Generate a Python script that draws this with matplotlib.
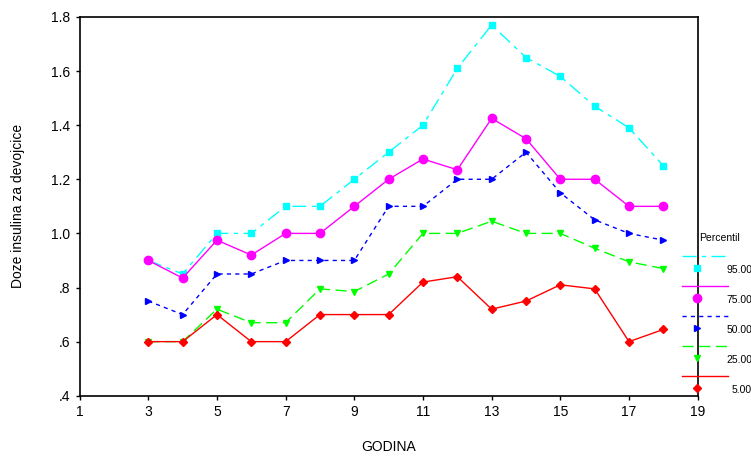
import numpy as np
import matplotlib.pyplot as plt
from matplotlib.lines import Line2D

plt.rcParams['font.family'] = ['Liberation Sans', 'DejaVu Sans']

# age (years) on x
godina = [3, 4, 5, 6, 7, 8, 9, 10, 11, 12, 13, 14, 15, 16, 17, 18]

# percentile curves of insulin dose
p95 = [0.90, 0.85, 1.00, 1.00, 1.10, 1.10, 1.20, 1.30, 1.40, 1.61, 1.77, 1.65, 1.58, 1.47, 1.39, 1.25]
p75 = [0.90, 0.835, 0.975, 0.92, 1.00, 1.00, 1.10, 1.20, 1.275, 1.235, 1.425, 1.35, 1.20, 1.20, 1.10, 1.10]
p50 = [0.75, 0.70, 0.85, 0.85, 0.90, 0.90, 0.90, 1.10, 1.10, 1.20, 1.20, 1.30, 1.15, 1.05, 1.00, 0.975]
p25 = [0.60, 0.60, 0.72, 0.67, 0.67, 0.795, 0.785, 0.85, 1.00, 1.00, 1.045, 1.00, 1.00, 0.945, 0.895, 0.87]
p5 = [0.60, 0.60, 0.70, 0.60, 0.60, 0.70, 0.70, 0.70, 0.82, 0.84, 0.72, 0.75, 0.81, 0.795, 0.60, 0.645]

labels = ['95.00', '75.00', '50.00', '25.00', '5.00']
series = [p95, p75, p50, p25, p5]
colors = ['#00ffff', '#ff00ff', '#0000ff', '#00ff00', '#ff0000']
markers = ['s', 'o', '>', 'v', 'D']
msizes = [4.5, 6, 5, 5, 4.5]
dashes = [(10, 4, 3, 4), None, (3, 3), (8, 4), None]

fig = plt.figure(figsize=(7.51, 4.57), dpi=100)
ax = fig.add_axes([0.106, 0.134, 0.823, 0.829])

for ys, c, m, ms, d in zip(series, colors, markers, msizes, dashes):
    line, = ax.plot(godina, ys, color=c, lw=1, marker=m, markersize=ms,
                    markeredgecolor=c, markerfacecolor=c)
    if d is not None:
        line.set_dashes(d)

ax.set_xlim(1, 19)
ax.set_ylim(0.4, 1.8)
ax.set_xticks(range(1, 20, 2))
yt = np.arange(0.4, 1.81, 0.2)
ax.set_yticks(yt)
ax.set_yticklabels(['.4', '.6', '.8', '1.0', '1.2', '1.4', '1.6', '1.8'])
ax.tick_params(direction='out', length=3, width=1, labelsize=10, pad=4)
for s in ax.spines.values():
    s.set_linewidth(1.2)

ax.set_xlabel('GODINA', fontsize=10, va='center')
ax.xaxis.set_label_coords(0.5, -0.135)
ax.set_ylabel('Doze insulina za devojcice', fontsize=10, va='center')
ax.yaxis.set_label_coords(-0.1, 0.5)

# SPSS style legend on the right: line sample above marker
W, H = 751, 457
fig.text(720 / W, 1 - 238 / H, 'Percentil', fontsize=7.5, ha='center', va='center')
for i, (lab, c, m, ms, d) in enumerate(zip(labels, colors, markers, msizes, dashes)):
    ly = 256 + 30 * i
    my = ly + 12
    ln = Line2D([682 / W, 728 / W], [1 - ly / H, 1 - ly / H], color=c, lw=1,
                transform=fig.transFigure)
    if d is not None:
        ln.set_dashes(d)
    fig.add_artist(ln)
    fig.add_artist(Line2D([697 / W], [1 - my / H], marker=m, markersize=ms,
                          color=c, markeredgecolor=c, transform=fig.transFigure))
    fig.text(752 / W, 1 - (my + 2) / H, lab, fontsize=7.5, ha='right', va='center')

fig.savefig('out.png', dpi=100)
